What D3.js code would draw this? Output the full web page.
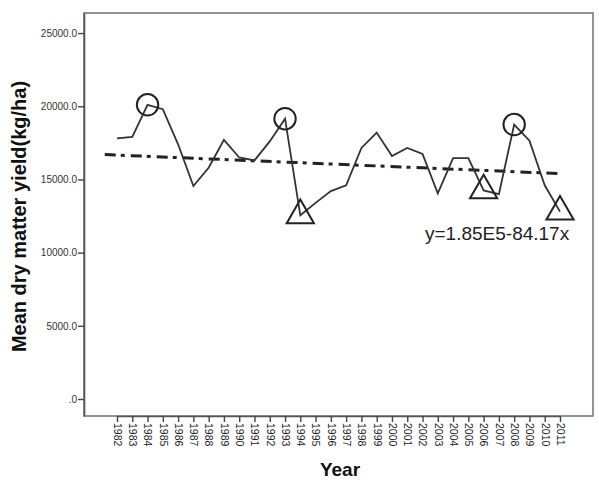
<!DOCTYPE html>
<html>
<head>
<meta charset="utf-8">
<script src="https://cdn.jsdelivr.net/npm/d3@7"></script>
<style>
  body { margin: 0; background: #fff; }
  svg { display: block; font-family: "Liberation Sans", Arial, sans-serif; }
</style>
</head>
<body>
<div id="chart"></div>
<script>
// data
const years = d3.range(1982, 2012);
const yields = [17800, 17900, 20100, 19800, 17400, 14550, 15800, 17700, 16500, 16300,
                17600, 19150, 12550, 13400, 14200, 14600, 17150, 18200, 16600, 17150,
                16750, 14050, 16450, 16450, 14250, 14000, 18750, 17650, 14600, 12800];
const circleYears = [1984, 1993, 2008];
const triangleYears = [1994, 2006, 2011];
const trendYears = [1981.2, 2011];
const trendValues = [16700, 15400];
const yTicks = [0, 5000, 10000, 15000, 20000, 25000];
const equation = "y=1.85E5-84.17x";

const width = 599, height = 481;
const marginTop = 13, marginRight = 6, marginBottom = 65, marginLeft = 84;

const x = d3.scaleLinear().domain([1982, 2011]).range([117, 560]);
const y = d3.scaleLinear().domain([-1160, 26370]).range([height - marginBottom, marginTop]);

const svg = d3.select("#chart").append("svg")
    .attr("width", width)
    .attr("height", height)
    .attr("viewBox", [0, 0, width, height]);

// frame
svg.append("rect")
    .attr("x", marginLeft)
    .attr("y", marginTop)
    .attr("width", width - marginLeft - marginRight)
    .attr("height", height - marginTop - marginBottom)
    .attr("fill", "none")
    .attr("stroke", "#7a7a7a")
    .attr("stroke-width", 1.6);

// y axis
svg.append("g")
    .attr("transform", `translate(${marginLeft},0)`)
    .call(d3.axisLeft(y).tickValues(yTicks).tickSize(6).tickSizeOuter(0)
        .tickFormat(d => d === 0 ? ".0" : d.toFixed(1)))
    .call(g => g.select(".domain").attr("stroke", "#555").attr("stroke-width", 1.6))
    .call(g => g.selectAll(".tick line").attr("stroke", "#444").attr("stroke-width", 1.4))
    .call(g => g.selectAll(".tick text")
        .attr("fill", "#333")
        .style("font-size", "10px")
        .attr("x", -7));

// x axis
svg.append("g")
    .attr("transform", `translate(0,${height - marginBottom})`)
    .call(d3.axisBottom(x).tickValues(years).tickSize(6).tickSizeOuter(0)
        .tickFormat(d3.format("d")))
    .call(g => g.select(".domain").attr("stroke", "#555").attr("stroke-width", 1.6))
    .call(g => g.selectAll(".tick line").attr("stroke", "#444").attr("stroke-width", 1.4))
    .call(g => g.selectAll(".tick text")
        .attr("fill", "#222")
        .style("font-size", "10.5px")
        .attr("transform", "rotate(90)")
        .attr("text-anchor", "start")
        .attr("x", 7)
        .attr("y", 0)
        .attr("dy", "0.35em"));

// axis titles
svg.append("text")
    .attr("transform", `translate(26,${(marginTop + height - marginBottom) / 2 + 2}) rotate(-90)`)
    .attr("text-anchor", "middle")
    .style("font-size", "20px")
    .style("font-weight", "bold")
    .attr("fill", "#111")
    .text("Mean dry matter yield(kg/ha)");

svg.append("text")
    .attr("x", 340)
    .attr("y", 476)
    .attr("text-anchor", "middle")
    .style("font-size", "19px")
    .style("font-weight", "bold")
    .attr("fill", "#111")
    .text("Year");

// trend line
svg.append("path")
    .datum(d3.zip(trendYears, trendValues))
    .attr("fill", "none")
    .attr("stroke", "#222")
    .attr("stroke-width", 3)
    .attr("stroke-dasharray", "11,5,4,6")
    .attr("d", d3.line().x(d => x(d[0])).y(d => y(d[1])));

// series line
const I = d3.range(years.length);
svg.append("path")
    .attr("fill", "none")
    .attr("stroke", "#333")
    .attr("stroke-width", 1.8)
    .attr("stroke-linejoin", "miter")
    .attr("d", d3.line().x(i => x(years[i])).y(i => y(yields[i]))(I));

const valueOf = yr => yields[years.indexOf(yr)];

// markers
svg.append("g")
    .selectAll("path")
    .data(circleYears)
    .join("path")
    .attr("transform", d => `translate(${x(d)},${y(valueOf(d))})`)
    .attr("d", d3.symbol(d3.symbolCircle, 360))
    .attr("fill", "none")
    .attr("stroke", "#222")
    .attr("stroke-width", 2);

svg.append("g")
    .selectAll("path")
    .data(triangleYears)
    .join("path")
    .attr("transform", d => `translate(${x(d)},${y(valueOf(d))})`)
    .attr("d", d3.symbol(d3.symbolTriangle, 320))
    .attr("fill", "none")
    .attr("stroke", "#222")
    .attr("stroke-width", 2);

// regression equation
svg.append("text")
    .attr("x", 425)
    .attr("y", 240)
    .style("font-size", "19px")
    .attr("fill", "#222")
    .text(equation);
</script>
</body>
</html>
